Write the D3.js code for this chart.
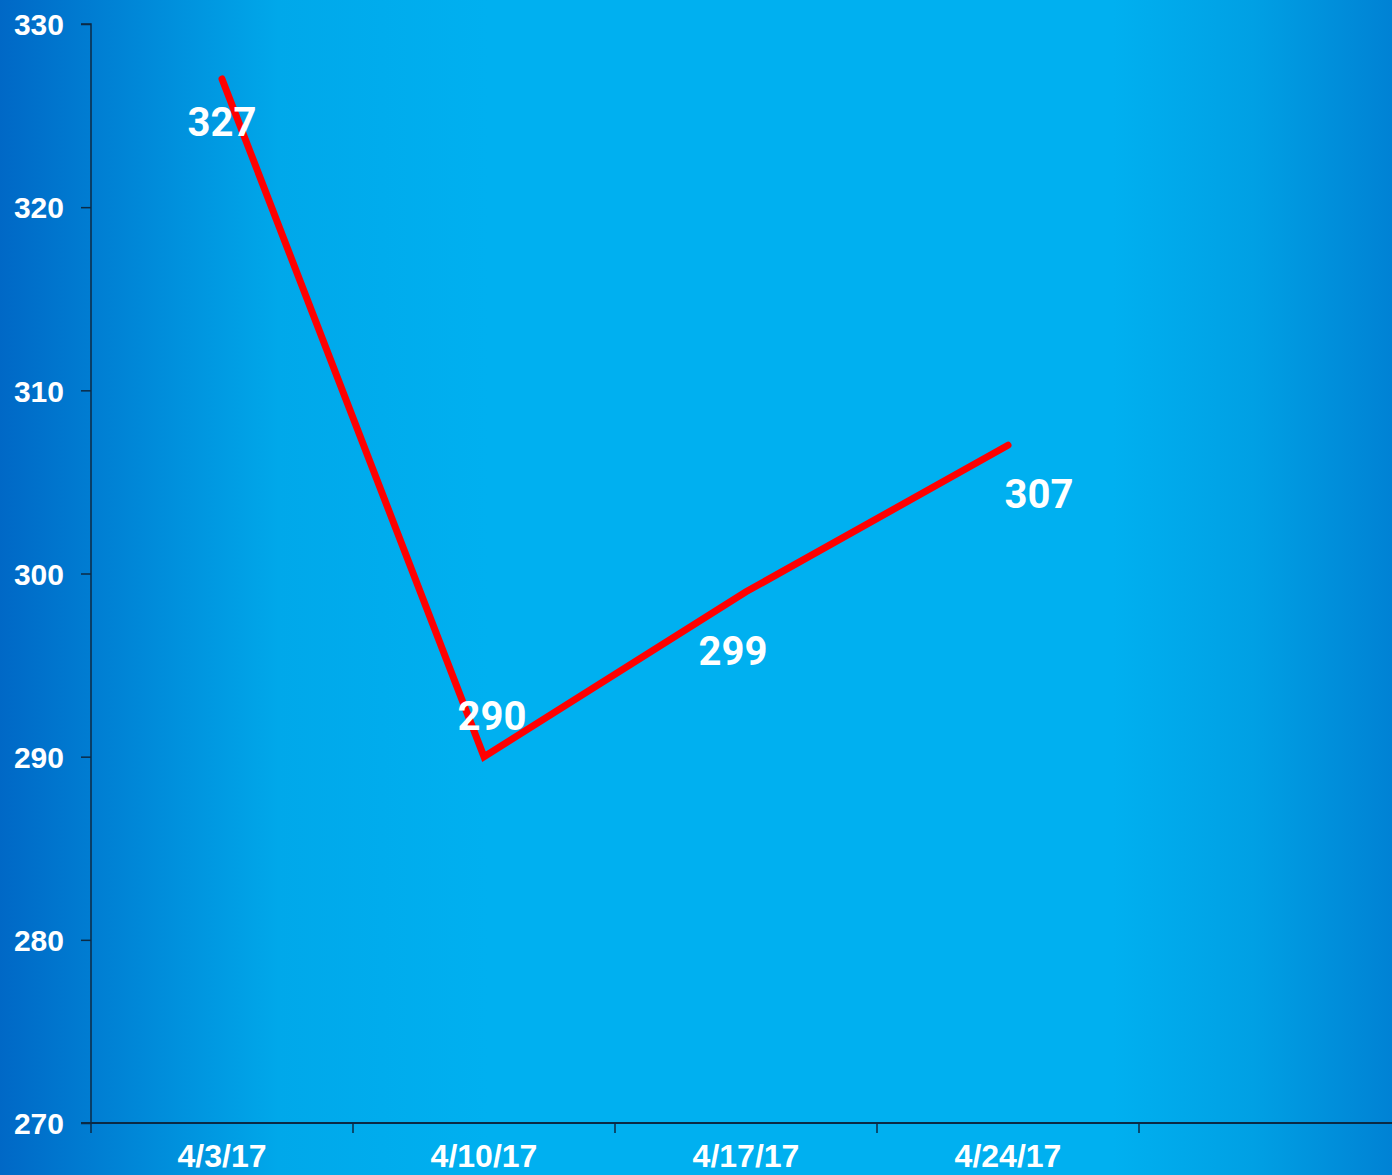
<!DOCTYPE html>
<html>
<head>
<meta charset="utf-8">
<script src="https://cdn.jsdelivr.net/npm/d3@7"></script>
<style>
  html, body { margin: 0; padding: 0; overflow: hidden; }
  svg { display: block; }
  .ytick text { font-family: "Liberation Sans", Arial, sans-serif; font-weight: bold; font-size: 30px; fill: #fff; }
  .xtick text { font-family: "Liberation Sans Narrow", "Liberation Sans", Arial, sans-serif; font-stretch: condensed; font-weight: bold; font-size: 32px; fill: #fff; }
  .lbl { font-family: Roboto, "Noto Sans", sans-serif; font-weight: bold; font-size: 40px; fill: #fff; }
</style>
</head>
<body>
<svg width="1392" height="1175"></svg>
<script>
const dates = ['4/3/17', '4/10/17', '4/17/17', '4/24/17'];
const values = [327, 290, 299, 307];
const yTicks = [270, 280, 290, 300, 310, 320, 330];
// where each value label sits relative to its point (dx, dy)
const labelOffsets = [[0, 57], [8, -27], [-13, 73], [31, 63]];

const W = 1392, H = 1175;
const svg = d3.select('svg');

// background gradient
const defs = svg.append('defs');
const grad = defs.append('linearGradient').attr('id', 'bg')
    .attr('x1', 0).attr('x2', 1).attr('y1', 0).attr('y2', 0);
grad.append('stop').attr('offset', '0').attr('stop-color', '#0068c6');
grad.append('stop').attr('offset', '0.2').attr('stop-color', '#00a8ea');
grad.append('stop').attr('offset', '0.35').attr('stop-color', '#00b0f0');
grad.append('stop').attr('offset', '0.8').attr('stop-color', '#00b0f0');
grad.append('stop').attr('offset', '0.9').attr('stop-color', '#00a0e4');
grad.append('stop').attr('offset', '1').attr('stop-color', '#0082d4');
svg.append('rect').attr('width', W).attr('height', H).attr('fill', 'url(#bg)');

const mLeft = 91, mTop = 24, mBottom = 1123;

// 5 bands, last one left empty like the original
const x = d3.scaleBand()
    .domain(dates.concat(['']))
    .range([mLeft, mLeft + 262 * 5]);
const y = d3.scaleLinear().domain([270, 330]).range([mBottom, mTop]);

// y axis
const yAxis = svg.append('g').attr('transform', `translate(${mLeft},0)`)
    .call(d3.axisLeft(y).tickValues(yTicks).tickSize(10).tickPadding(17));
yAxis.select('.domain').attr('stroke', '#0b2a45').attr('stroke-width', 1.5)
    .attr('d', `M-10,${mTop}H0V${mBottom}`);
yAxis.selectAll('.tick').classed('ytick', true);
yAxis.selectAll('.tick line').attr('stroke', '#0b2a45').attr('stroke-width', 1.5);
yAxis.selectAll('.tick text').attr('dy', '0.36em');

// x axis
const xAxis = svg.append('g').attr('transform', `translate(0,${mBottom})`);
xAxis.append('line').attr('x1', mLeft - 10).attr('x2', W).attr('y1', 0).attr('y2', 0)
    .attr('stroke', '#0b2a45').attr('stroke-width', 2);
const bandEdges = x.domain().map(d => x(d));
xAxis.selectAll('.xt').data(bandEdges).enter().append('line')
    .attr('x1', d => d).attr('x2', d => d).attr('y1', 0).attr('y2', 10)
    .attr('stroke', '#0b2a45').attr('stroke-width', 1.5);
xAxis.selectAll('.xtick').data(dates).enter().append('g').classed('xtick', true)
    .append('text')
    .attr('x', d => x(d) + x.bandwidth() / 2)
    .attr('y', 44)
    .attr('text-anchor', 'middle')
    .text(d => d);

// line
const pts = dates.map((d, i) => ({ date: d, value: values[i] }));
const line = d3.line()
    .x(d => x(d.date) + x.bandwidth() / 2)
    .y(d => y(d.value));
svg.append('path').datum(pts)
    .attr('d', line)
    .attr('fill', 'none')
    .attr('stroke', '#ff0000')
    .attr('stroke-width', 7)
    .attr('stroke-linecap', 'round')
    .attr('stroke-linejoin', 'miter');

// value labels
svg.selectAll('.lbl').data(pts).enter().append('text').classed('lbl', true)
    .attr('x', (d, i) => x(d.date) + x.bandwidth() / 2 + labelOffsets[i][0])
    .attr('y', (d, i) => y(d.value) + labelOffsets[i][1])
    .attr('text-anchor', 'middle')
    .text(d => d.value);
</script>
</body>
</html>
